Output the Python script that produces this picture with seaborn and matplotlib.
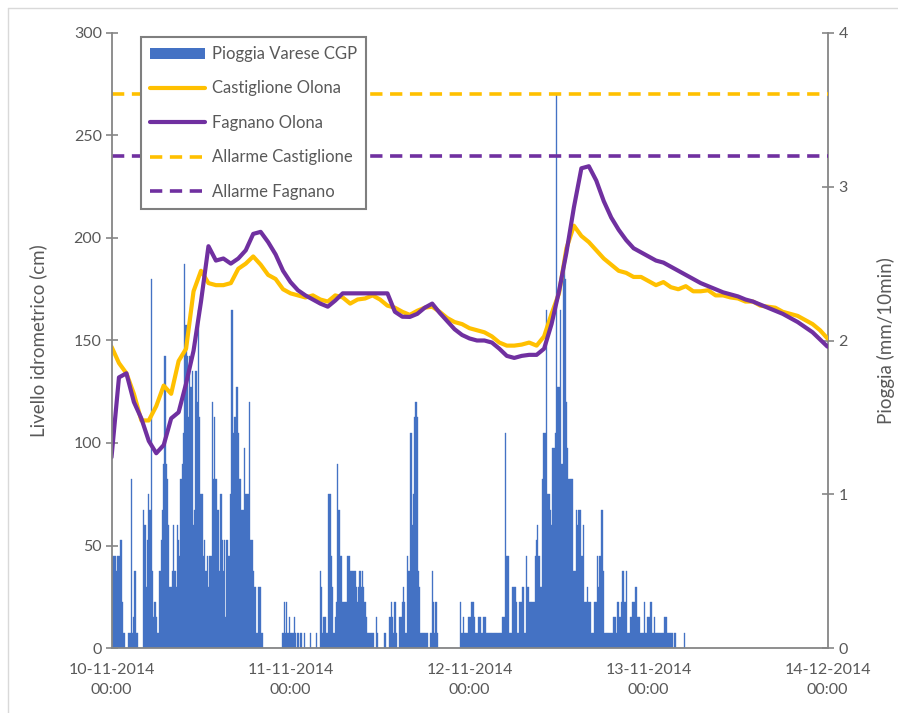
import numpy as np
import pandas as pd
import matplotlib
matplotlib.use("Agg")
import matplotlib.pyplot as plt
import seaborn as sns
from matplotlib.lines import Line2D
from matplotlib.patches import Patch

# ---------------- data ----------------
# water levels, hourly readings (hours since 10-11-2014 00:00)
level_time_h = list(range(0, 97))
castiglione_cm = [
    147, 139, 134, 124, 111, 111, 118, 128, 124, 140,
    146, 174, 184, 178, 177, 177, 178, 185, 187.5, 191,
    187, 182, 180, 175, 173, 172, 171, 172, 170, 169,
    172, 171, 168, 170, 170.5, 172, 170, 167, 166, 164,
    162.5, 164.5, 166, 166.5, 164, 161, 159, 158, 156, 155,
    154, 152, 149, 147.5, 147.5, 148, 149, 147.5, 152, 163,
    173, 195, 206, 201, 198, 194, 190, 187, 184, 183,
    181, 181, 179, 177, 178.5, 176, 175, 176.5, 174, 174,
    174.5, 172, 172, 171, 170.5, 169, 169, 167, 166.5, 166,
    164, 163, 162, 160, 158, 155, 151]
fagnano_cm = [
    93, 132, 134, 120, 112, 101, 95, 99, 112, 115,
    129, 145, 169, 196, 189, 190, 187.5, 190, 194, 202,
    203, 198, 192, 184, 178.5, 174.5, 172, 170, 168, 166.5,
    169.5, 173, 173, 173, 173, 173, 173, 173, 164, 161.6,
    161.5, 163, 166, 168, 163.5, 159.5, 155.5, 152.7, 151, 150,
    150, 149, 146, 142.5, 141.5, 142.5, 143, 143, 146, 158,
    174, 193, 215, 234, 235, 228, 218, 210, 204, 199,
    195, 193, 191, 189, 188, 186, 184, 182, 180, 178,
    176.5, 175, 173.5, 172.5, 171.5, 170, 169, 167.5, 166, 164.5,
    163, 161, 159, 156.5, 154, 150.5, 147]
allarme_castiglione_cm = 270
allarme_fagnano_cm = 240

# rain every 10 minutes, in tenths of mm (starting 10-11-2014 00:00)
rain_tenths_mm = [
    6, 6, 6, 6, 5, 6, 6, 7, 7, 3,
    1, 0, 0, 0, 1, 1, 11, 1, 2, 5,
    1, 1, 0, 0, 0, 0, 9, 8, 4, 7,
    10, 9, 24, 5, 2, 3, 2, 1, 1, 5,
    7, 9, 12, 19, 12, 11, 8, 4, 4, 5,
    8, 5, 4, 8, 7, 6, 11, 12, 14, 25,
    21, 19, 15, 19, 17, 18, 8, 9, 18, 16,
    22, 15, 10, 10, 6, 7, 5, 6, 4, 6,
    6, 16, 11, 15, 11, 9, 9, 5, 10, 7,
    5, 7, 2, 7, 6, 6, 10, 22, 14, 15,
    15, 17, 14, 11, 11, 9, 9, 13, 10, 10,
    10, 16, 7, 7, 5, 4, 4, 1, 4, 4,
    4, 1, 0, 0, 0, 0, 0, 0, 0, 0,
    0, 0, 0, 0, 0, 0, 0, 0, 1, 3,
    1, 3, 1, 2, 1, 1, 1, 2, 1, 0,
    1, 0, 1, 1, 0, 1, 0, 0, 0, 0,
    1, 0, 0, 0, 0, 1, 0, 0, 5, 4,
    1, 2, 2, 1, 1, 10, 10, 6, 4, 1,
    2, 3, 12, 9, 6, 6, 3, 3, 3, 3,
    6, 6, 5, 5, 5, 5, 5, 4, 3, 4,
    5, 4, 5, 4, 3, 2, 1, 1, 1, 1,
    1, 1, 0, 2, 1, 0, 0, 0, 0, 0,
    1, 0, 0, 0, 2, 3, 2, 1, 3, 1,
    0, 0, 2, 2, 3, 4, 3, 1, 6, 5,
    5, 14, 8, 10, 15, 16, 15, 5, 4, 1,
    1, 1, 1, 1, 1, 0, 0, 1, 5, 3,
    1, 3, 1, 0, 0, 0, 0, 0, 0, 0,
    0, 0, 0, 0, 0, 0, 0, 0, 0, 0,
    0, 3, 1, 2, 1, 1, 1, 2, 2, 2,
    3, 3, 2, 1, 1, 2, 2, 2, 1, 2,
    2, 2, 1, 1, 1, 1, 1, 1, 1, 1,
    1, 1, 1, 1, 1, 2, 2, 14, 6, 6,
    1, 1, 1, 4, 4, 4, 3, 1, 3, 3,
    3, 4, 1, 1, 6, 4, 3, 3, 3, 3,
    3, 6, 7, 8, 6, 4, 4, 11, 14, 14,
    22, 10, 10, 9, 8, 13, 13, 14, 36, 17,
    17, 22, 12, 12, 25, 24, 16, 13, 11, 11,
    11, 11, 5, 5, 9, 8, 9, 9, 6, 6,
    8, 3, 3, 4, 3, 3, 1, 1, 1, 3,
    3, 6, 4, 6, 9, 9, 5, 1, 1, 1,
    1, 1, 1, 1, 2, 2, 1, 3, 3, 2,
    3, 5, 5, 3, 5, 1, 1, 1, 2, 3,
    3, 3, 4, 2, 2, 2, 1, 1, 1, 3,
    1, 2, 2, 2, 3, 1, 1, 2, 1, 1,
    1, 1, 1, 1, 1, 2, 2, 1, 1, 1,
    1, 1, 0, 1, 1, 0, 0, 0, 0, 0,
    0, 1]

x_tick_labels = ["10-11-2014\n00:00", "11-11-2014\n00:00", "12-11-2014\n00:00",
                 "13-11-2014\n00:00", "14-12-2014\n00:00"]
day_ticks_h = [0, 24, 48, 72, 96]
minor_step_h = 6
left_ticks = [0, 50, 100, 150, 200, 250, 300]
right_ticks = [0, 1, 2, 3, 4]
series_labels = ["Pioggia Varese CGP", "Castiglione Olona", "Fagnano Olona",
                 "Allarme Castiglione", "Allarme Fagnano"]

# ---------------- styling ----------------
BLUE = "#4472C4"
YELLOW = "#FFC000"
PURPLE = "#7030A0"
AXIS = "#868686"
TEXT = "#595959"

sns.set_style("white")
plt.rcParams["font.family"] = ["Lato", "DejaVu Sans"]

rain_mm = np.array(rain_tenths_mm) / 10.0
rain_time_h = np.arange(len(rain_mm)) / 6.0
df_rain = pd.DataFrame({"t": rain_time_h, "mm": rain_mm})
df_lvl = pd.DataFrame({"t": level_time_h,
                       "cast": castiglione_cm,
                       "fagn": fagnano_cm})

fig = plt.figure(figsize=(8.98, 7.13), dpi=100)
W, H = 898, 713
L, R, T, B = 111.5, 827.5, 33, 648
ax = fig.add_axes([L / W, 1 - B / H, (R - L) / W, (B - T) / H])
ax2 = ax.twinx()

# rain bars (secondary axis, behind lines)
step = 1 / 6.0
sns.histplot(data=df_rain, x="t", weights="mm", binwidth=step,
             binrange=(-step / 2, len(rain_mm) * step - step / 2), ax=ax2,
             color=BLUE, alpha=1, edgecolor=BLUE, linewidth=0.25, shrink=1.0)

# level lines
LW = 3.0
sns.lineplot(data=df_lvl, x="t", y="cast", ax=ax, color=YELLOW, lw=LW, legend=False)
sns.lineplot(data=df_lvl, x="t", y="fagn", ax=ax, color=PURPLE, lw=LW, legend=False)
span = [level_time_h[0], level_time_h[-1]]
sns.lineplot(x=span, y=[allarme_castiglione_cm] * 2, ax=ax, color=YELLOW, lw=2.6,
             linestyle="--", legend=False)
ax.lines[-1].set_dashes([3.4, 2.1])
sns.lineplot(x=span, y=[allarme_fagnano_cm] * 2, ax=ax, color=PURPLE, lw=2.6,
             linestyle="--", legend=False)
ax.lines[-1].set_dashes([3.4, 2.1])

ax.set_zorder(ax2.get_zorder() + 1)
ax.patch.set_visible(False)

ax.set_xlim(0, 96)
ax.set_ylim(0, 300)
ax2.set_ylim(0, 4)

ax.set_yticks(left_ticks)
ax2.set_yticks(right_ticks)
all_ticks = list(range(0, 97, minor_step_h))
ax.set_xticks(all_ticks)
ax.set_xticklabels([x_tick_labels[day_ticks_h.index(t)] if t in day_ticks_h else ""
                    for t in all_ticks], linespacing=1.55)

for a in (ax, ax2):
    a.spines["top"].set_visible(False)
ax.spines["right"].set_visible(False)
ax2.spines["left"].set_visible(False)
ax2.spines["bottom"].set_visible(False)
for s in ("left", "bottom"):
    ax.spines[s].set_color(AXIS)
    ax.spines[s].set_linewidth(1.3)
ax2.spines["right"].set_color(AXIS)
ax2.spines["right"].set_linewidth(1.3)

ax.tick_params(axis="y", direction="inout", length=8, width=1.2, color=AXIS,
               labelcolor=TEXT, labelsize=11.5, pad=3)
ax.tick_params(axis="x", direction="inout", length=9, width=1.2, color=AXIS,
               labelcolor=TEXT, labelsize=11.5, pad=6)
ax2.tick_params(axis="y", direction="inout", length=8, width=1.2, color=AXIS,
                labelcolor=TEXT, labelsize=11.5, pad=4)
ax2.tick_params(axis="x", bottom=False, labelbottom=False)

ax.set_xlabel("")
ax.set_ylabel("Livello idrometrico (cm)", fontsize=13.5, color=TEXT)
ax.yaxis.set_label_coords((47 - L) / (R - L), 0.5)
ax2.set_xlabel("")
ax2.set_ylabel("Pioggia (mm/10min)", fontsize=13.5, color=TEXT, rotation=90)
ax2.yaxis.set_label_coords((877 - L) / (R - L), 0.5)

handles = [Patch(facecolor=BLUE, edgecolor="none"),
           Line2D([], [], color=YELLOW, lw=LW),
           Line2D([], [], color=PURPLE, lw=LW),
           Line2D([], [], color=YELLOW, lw=2.6, dashes=[3.4, 2.1]),
           Line2D([], [], color=PURPLE, lw=2.6, dashes=[3.4, 2.1])]
leg = ax.legend(handles, series_labels, loc="upper left",
                bbox_to_anchor=((141 - L) / (R - L), (B - 37) / (B - T)),
                borderaxespad=0, frameon=True, fancybox=False, framealpha=1,
                fontsize=12, handlelength=3.3, handleheight=0.6,
                handletextpad=0.4, labelspacing=1.1, borderpad=0.55)
leg.get_frame().set_edgecolor("#7F7F7F")
leg.get_frame().set_linewidth(1.5)
for txt in leg.get_texts():
    txt.set_color(TEXT)

# chart-area border (left and top)
fig.add_artist(Line2D([8 / W, 8 / W], [0, 1 - 8 / H], transform=fig.transFigure,
                      color="#D9D9D9", lw=1))
fig.add_artist(Line2D([8 / W, 1], [1 - 8 / H, 1 - 8 / H], transform=fig.transFigure,
                      color="#D9D9D9", lw=1))

fig.savefig("out.png", dpi=100)
